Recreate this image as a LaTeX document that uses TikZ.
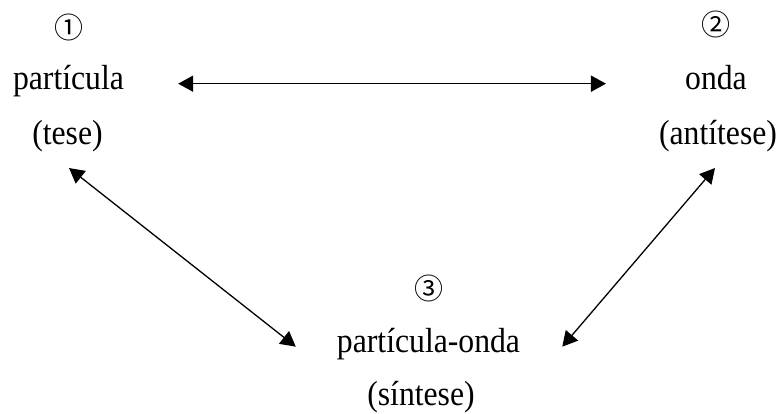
\documentclass[tikz,border=0pt]{standalone}
\usepackage{fontspec}
\setmainfont{Liberation Serif}
\newfontfamily\circfont{Noto Sans CJK SC}
\usetikzlibrary{arrows.meta}
\newcommand{\tallword}[1]{\scalebox{1}[1.1]{#1}}

\begin{document}
\begin{tikzpicture}[x=1pt,y=-1pt]
                        \tikzstyle{word}=[inner sep=0pt, anchor=base, font=\fontsize{31.7}{38}\selectfont]
                        \tikzstyle{num}=[inner sep=0pt, font=\circfont\fontsize{29}{34}\selectfont]
                        \tikzstyle{link}=[line width=1.6pt, {Triangle[length=15pt,width=16pt]}-{Triangle[length=15pt,width=16pt]}]
                        \useasboundingbox (0,0) rectangle (776,414);
                        % tese
                        \node[num] (n1) at (69,27) {①};
                        \node[word] (part) at (68.5,90) {\tallword{partícula}};
                        \node[word] (tese) at (67.5,145) {\tallword{(tese)}};
                        % antitese
                        \node[num] (n2) at (716,24) {②};
                        \node[word] (onda) at (716,90) {\tallword{onda}};
                        \node[word] (anti) at (718,145) {\tallword{(antítese)}};
                        % sintese
                        \node[num] (n3) at (429,288) {③};
                        \node[word] (po) at (428.5,352) {\tallword{partícula-onda}};
                        \node[word] (sint) at (421,405) {\tallword{(síntese)}};
                        % arrows
                        \draw[link] ([shift={(54,2.1)}]part.east) -- ([shift={(-79,2.1)}]part.east -| onda.west);
                        \draw[link, line width=1.3pt] ([shift={(1.5,15.4)}]tese.south) -- ([shift={(-41,3.1)}]po.west);
                        \draw[link, line width=1.3pt] ([shift={(-3,15.4)}]anti.south) -- ([shift={(42,3.1)}]po.east);
                    \end{tikzpicture}
\end{document}
